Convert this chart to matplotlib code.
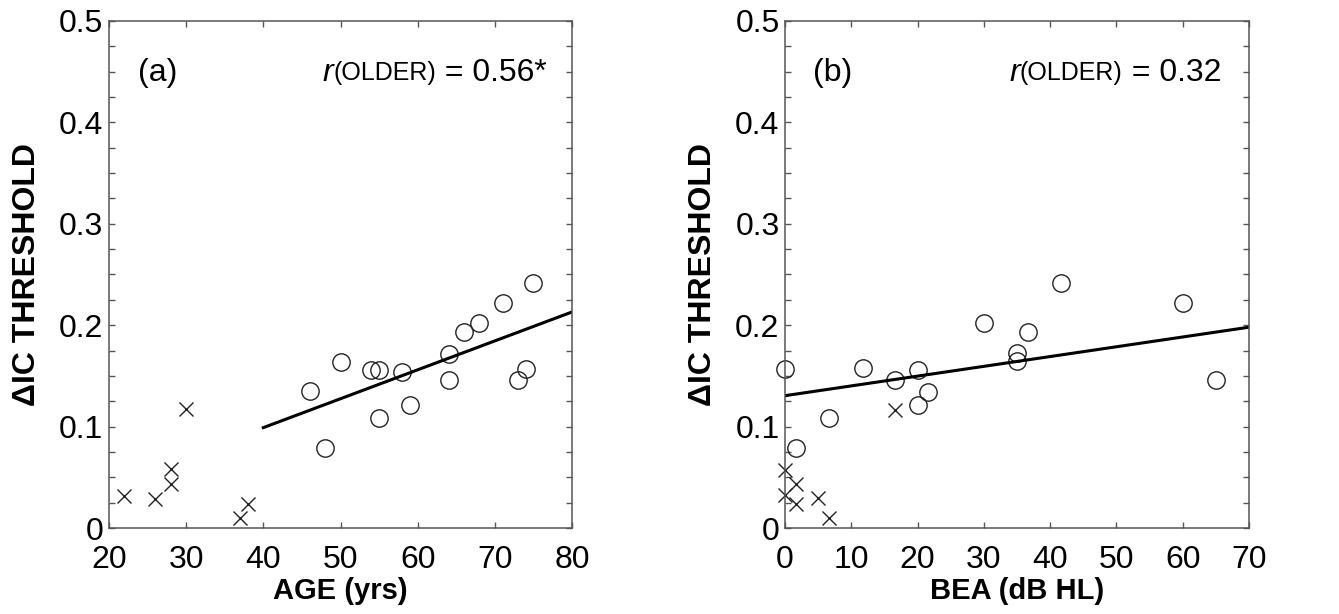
import matplotlib
matplotlib.use("Agg")
import matplotlib.pyplot as plt
from matplotlib.ticker import MultipleLocator, FuncFormatter

# ---- data ----
age_older = [46, 50, 48, 54, 55, 55, 58, 59, 64, 64, 66, 68, 71, 73, 74, 75]
dic_older_age = [0.135, 0.164, 0.079, 0.156, 0.156, 0.108, 0.154, 0.121,
                 0.172, 0.146, 0.193, 0.202, 0.222, 0.146, 0.157, 0.242]
age_young = [22, 26, 28, 28, 30, 37, 38]
dic_young_age = [0.032, 0.029, 0.058, 0.043, 0.117, 0.010, 0.024]
fit_age_x = [40, 80]
fit_age_y = [0.099, 0.213]

bea_older = [0, 1.6, 6.6, 11.7, 16.6, 20, 20, 21.6, 30, 35, 35, 36.6, 41.6, 60, 65]
dic_older_bea = [0.157, 0.079, 0.108, 0.158, 0.146, 0.156, 0.121, 0.134,
                 0.202, 0.173, 0.165, 0.193, 0.242, 0.222, 0.146]
bea_young = [0, 0, 1.6, 1.6, 4.9, 6.6, 16.6]
dic_young_bea = [0.057, 0.033, 0.043, 0.024, 0.030, 0.010, 0.116]
fit_bea_x = [0, 70]
fit_bea_y = [0.1305, 0.198]

r_age = "0.56*"
r_bea = "0.32"

plt.rcParams["font.family"] = ["Liberation Sans", "DejaVu Sans"]

fig = plt.figure(figsize=(13.39, 6.14), dpi=100)
ax_a = fig.add_axes([0.0814, 0.140, 0.3458, 0.826])
ax_b = fig.add_axes([0.5863, 0.140, 0.3465, 0.826])

spine_col = "#555555"


def fmt_y(v, _):
    if abs(v) < 1e-9:
        return "0"
    return f"{v:.1f}"


def style(ax, xlim, xlabel):
    ax.set_xlim(*xlim)
    ax.set_ylim(0, 0.5)
    ax.xaxis.set_major_locator(MultipleLocator(10))
    ax.yaxis.set_major_locator(MultipleLocator(0.1))
    ax.yaxis.set_minor_locator(MultipleLocator(0.025))
    ax.yaxis.set_major_formatter(FuncFormatter(fmt_y))
    ax.tick_params(which="both", direction="in", top=True, right=True,
                   length=4, width=1, color=spine_col, labelsize=23)
    ax.tick_params(axis="x", pad=12)
    ax.tick_params(axis="y", pad=4)
    for s in ax.spines.values():
        s.set_color(spine_col)
        s.set_linewidth(1.1)
    ax.set_xlabel(xlabel, fontsize=21, fontweight="bold", labelpad=2)
    ax.set_ylabel("\u0394IC THRESHOLD", fontsize=23, fontweight="bold", labelpad=12)


# (a) age
ax_a.plot(age_older, dic_older_age, "o", mfc="none", mec="#222222", ms=12.5, mew=1.0)
ax_a.plot(age_young, dic_young_age, "x", color="#222222", ms=10, mew=1.0)
ax_a.plot(fit_age_x, fit_age_y, "-", color="black", lw=2.2)
style(ax_a, (20, 80), "AGE (yrs)")

# (b) BEA
ax_b.plot(bea_older, dic_older_bea, "o", mfc="none", mec="#222222", ms=12.5, mew=1.0,
          clip_on=False)
ax_b.plot(bea_young, dic_young_bea, "x", color="#222222", ms=10, mew=1.0, clip_on=False)
ax_b.plot(fit_bea_x, fit_bea_y, "-", color="black", lw=2.2)
style(ax_b, (0, 70), "BEA (dB HL)")

ax_a.text(0.063, 0.897, "(a)", transform=ax_a.transAxes, fontsize=23, va="center")
ax_b.text(0.060, 0.897, "(b)", transform=ax_b.transAxes, fontsize=23, va="center")

# r(OLDER) = ... built from pieces, right aligned
fig.canvas.draw()
renderer = fig.canvas.get_renderer()
for ax, val, xr in [(ax_a, r_age, 0.946), (ax_b, r_bea, 0.940)]:
    t3 = ax.text(xr, 0.897, " = " + val, transform=ax.transAxes, fontsize=23,
                 ha="right", va="center")
    bb = t3.get_window_extent(renderer).transformed(ax.transAxes.inverted())
    t2 = ax.text(bb.x0, 0.897, "(OLDER)", transform=ax.transAxes, fontsize=18,
                 ha="right", va="center")
    bb2 = t2.get_window_extent(renderer).transformed(ax.transAxes.inverted())
    ax.text(bb2.x0, 0.897, "r", transform=ax.transAxes, fontsize=23,
            style="italic", ha="right", va="center")

fig.savefig("out.png", dpi=100)
